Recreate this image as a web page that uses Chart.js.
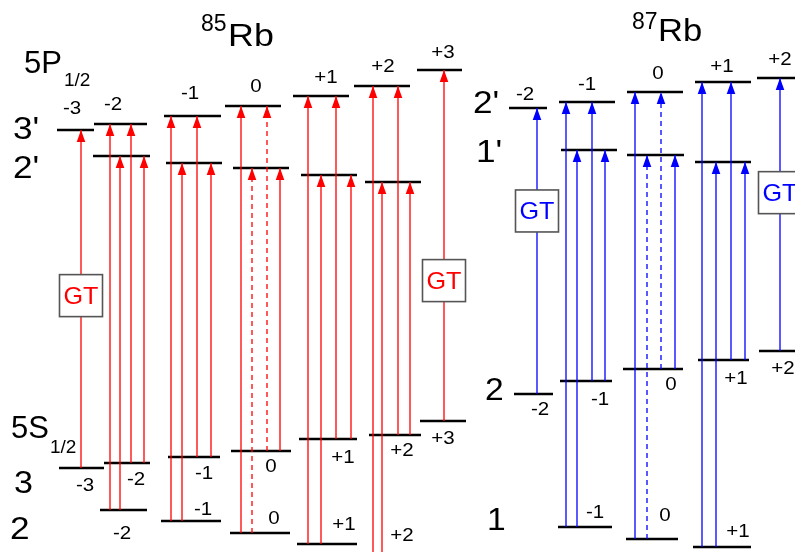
<!DOCTYPE html>
<html>
<head>
<meta charset="utf-8">
<script src="https://cdn.jsdelivr.net/npm/chart.js@4.4.0/dist/chart.umd.min.js"></script>
<style>
  html, body { margin: 0; padding: 0; background: #fff; }
</style>
</head>
<body>
<canvas id="diagram" width="795" height="552"></canvas>
<script>
// Level energies (height above the bottom edge, diagram units)
const rb85Mf = ['-3', '-2', '-1', '0', '+1', '+2', '+3'];
const rb85Up3 = [422, 428, 436, 446, 456, 466, 482];   // 5P1/2 F'=3
const rb85Up2 = [null, 396, 389, 384, 377, 370, null]; // 5P1/2 F'=2
const rb85Lo3 = [84, 89, 95, 101, 113, 117, 131];      // 5S1/2 F=3
const rb85Lo2 = [null, 42, 31, 19, 8, -4, null];       // 5S1/2 F=2

const rb87Mf = ['-2', '-1', '0', '+1', '+2'];
const rb87Up2 = [444, 450, 460, 470, 474];             // 5P1/2 F'=2
const rb87Up1 = [null, 402, 397, 390, null];           // 5P1/2 F'=1
const rb87Lo2 = [158, 171, 183, 192, 201];             // 5S1/2 F=2
const rb87Lo1 = [null, 25, 13, 5, null];               // 5S1/2 F=1

// transitions per mF column: [lower F, upper F', kind]  s = solid, d = dashed, g = with GT box
const rb85Trans = [
    [[3, 3, 'g']],
    [[2, 3, 's'], [2, 2, 's'], [3, 3, 's'], [3, 2, 's']],
    [[2, 3, 's'], [2, 2, 's'], [3, 3, 's'], [3, 2, 's']],
    [[2, 3, 's'], [2, 2, 'd'], [3, 3, 'd'], [3, 2, 's']],
    [[2, 3, 's'], [2, 2, 's'], [3, 3, 's'], [3, 2, 's']],
    [[2, 3, 's'], [2, 2, 's'], [3, 3, 's'], [3, 2, 's']],
    [[3, 3, 'g']]
];
const rb87Trans = [
    [[2, 2, 'g']],
    [[1, 2, 's'], [1, 1, 's'], [2, 2, 's'], [2, 1, 's']],
    [[1, 2, 's'], [1, 1, 'd'], [2, 2, 'd'], [2, 1, 's']],
    [[1, 2, 's'], [1, 1, 's'], [2, 2, 's'], [2, 1, 's']],
    [[2, 2, 'g']]
];

// ---- layout (where things sit horizontally, label offsets) ----
const span85 = {
    up3: [[57, 94], [94, 147], [164, 221], [225, 281], [293, 349], [354, 410], [417, 462]],
    up2: [null, [93, 150], [166, 222], [233, 289], [301, 357], [365, 421], null],
    lo3: [[59, 104], [104, 150], [168, 220], [231, 291], [299, 357], [369, 421], [420, 466]],
    lo2: [null, [100, 147], [161, 221], [230, 290], [297, 357], [369, 421], null]
};
const span87 = {
    up2: [[509, 547], [559, 615], [627, 683], [695, 751], [757, 810]],
    up1: [null, [561, 617], [627, 684], [695, 751], null],
    lo2: [[514, 553], [560, 612], [623, 683], [698, 749], [759, 810]],
    lo1: [null, [558, 612], [626, 678], [693, 751], null]
};
const arrowX85 = [[81], [110, 120, 131, 144], [171, 182, 197, 211], [241, 252, 267, 280],
                  [308, 321, 336, 351], [373, 382, 398, 410], [444]];
const arrowX87 = [[537], [566, 577, 592, 605], [635, 647, 661, 675], [702, 716, 731, 745], [780]];
const gtAt85 = { 0: 0.51, 6: 0.40 };
const gtAt87 = { 0: 0.64, 4: 0.58 };

// mF labels: [x, pixel offset from the level]
const lbl85Top = [[72, -23], [113, -21], [190, -24], [256, -21], [326, -20], [383, -21], [443, -19]];
const lbl85Lo3 = [[85, 16], [136, 15], [204, 15], [271, 14], [343, 17], [402, 14], [443, 16]];
const lbl85Lo2 = [null, [122, 22], [203, -13], [274, -16], [344, -21], [402, -22], null];
const lbl87Top = [[525, -15], [587, -19], [658, -20], [722, -17], [780, -20]];
const lbl87Lo2 = [[540, 14], [600, 17], [671, 14], [736, 17], [783, 16]];
const lbl87Lo1 = [null, [595, -16], [665, -25], [738, -17], null];

const FONT = "'Liberation Sans', Arial, sans-serif";
const RED = '#ff0000';
const BLUE = '#0000ff';

const datasets = [];

function addLevels(energies, spans) {
    energies.forEach((e, i) => {
        if (e === null || !spans[i]) return;
        datasets.push({
            data: [{ x: spans[i][0], y: e }, { x: spans[i][1], y: e }],
            showLine: true,
            borderColor: '#000',
            borderWidth: 2.7,
            borderCapStyle: 'butt',
            pointRadius: 0
        });
    });
}

function addArrows(trans, xs, lower, upper, gtAt, color) {
    trans.forEach((col, i) => {
        col.forEach((t, k) => {
            const yLo = lower[t[0]][i];
            const yUp = upper[t[1]][i];
            datasets.push({
                data: [{ x: xs[i][k], y: yLo }, { x: xs[i][k], y: yUp }],
                showLine: true,
                borderColor: color,
                borderWidth: 1.3,
                borderDash: t[2] === 'd' ? [5, 4] : [],
                pointRadius: 0,
                arrow: true,
                gt: t[2] === 'g' ? gtAt[i] : null
            });
        });
    });
}

addArrows(rb85Trans, arrowX85, { 3: rb85Lo3, 2: rb85Lo2 }, { 3: rb85Up3, 2: rb85Up2 }, gtAt85, RED);
addArrows(rb87Trans, arrowX87, { 2: rb87Lo2, 1: rb87Lo1 }, { 2: rb87Up2, 1: rb87Up1 }, gtAt87, BLUE);
addLevels(rb85Up3, span85.up3);
addLevels(rb85Up2, span85.up2);
addLevels(rb85Lo3, span85.lo3);
addLevels(rb85Lo2, span85.lo2);
addLevels(rb87Up2, span87.up2);
addLevels(rb87Up1, span87.up1);
addLevels(rb87Lo2, span87.lo2);
addLevels(rb87Lo1, span87.lo1);

function text(ctx, str, x, y, size, opts) {
    opts = opts || {};
    ctx.save();
    ctx.font = size + 'px ' + FONT;
    ctx.fillStyle = opts.color || '#000';
    ctx.textAlign = opts.align || 'left';
    ctx.textBaseline = 'alphabetic';
    ctx.translate(x, y);
    ctx.scale(opts.sx || 1, 1);
    ctx.fillText(str, 0, 0);
    ctx.restore();
}

const diagramPlugin = {
    id: 'diagram',
    afterDatasetsDraw(chart) {
        const ctx = chart.ctx;
        chart.data.datasets.forEach((ds, i) => {
            if (!ds.arrow) return;
            const pts = chart.getDatasetMeta(i).data;
            const base = pts[0], tip = pts[1];
            ctx.save();
            ctx.fillStyle = ds.borderColor;
            ctx.beginPath();
            ctx.moveTo(tip.x, tip.y);
            ctx.lineTo(tip.x - 4.3, tip.y + 12);
            ctx.lineTo(tip.x + 4.3, tip.y + 12);
            ctx.closePath();
            ctx.fill();
            if (ds.gt !== null) {
                const cy = base.y + (tip.y - base.y) * ds.gt;
                const w = 43, h = 42;
                ctx.fillStyle = '#fff';
                ctx.fillRect(tip.x - w / 2, cy - h / 2, w, h);
                ctx.strokeStyle = '#555';
                ctx.lineWidth = 1.6;
                ctx.strokeRect(tip.x - w / 2, cy - h / 2, w, h);
                text(ctx, 'GT', tip.x, cy + 8.5, 24, { color: ds.borderColor, align: 'center', sx: 1.05 });
            }
            ctx.restore();
        });
    },
    afterDraw(chart) {
        const ctx = chart.ctx;
        const xs = chart.scales.x, ys = chart.scales.y;
        const put = (lbls, energies, names) => {
            lbls.forEach((l, i) => {
                if (!l) return;
                const py = ys.getPixelForValue(energies[i]) + l[1];
                text(ctx, names[i], xs.getPixelForValue(l[0]), py + 7, 19, { align: 'center', sx: 1.08 });
            });
        };
        put(lbl85Top, rb85Up3, rb85Mf);
        put(lbl85Lo3, rb85Lo3, rb85Mf);
        put(lbl85Lo2, rb85Lo2, rb85Mf);
        put(lbl87Top, rb87Up2, rb87Mf);
        put(lbl87Lo2, rb87Lo2, rb87Mf);
        put(lbl87Lo1, rb87Lo1, rb87Mf);

        // titles and state names
        text(ctx, '85', 201, 31, 23);
        text(ctx, 'Rb', 228, 46, 32, { sx: 1.12 });
        text(ctx, '87', 632, 29, 23);
        text(ctx, 'Rb', 658, 41, 32, { sx: 1.08 });

        text(ctx, '5P', 24, 73, 31);
        text(ctx, '1/2', 64, 86, 19);
        text(ctx, "3'", 13, 139, 32, { sx: 1.1 });
        text(ctx, "2'", 13, 178, 32, { sx: 1.1 });
        text(ctx, '5S', 11, 438, 31);
        text(ctx, '1/2', 50, 453, 19);
        text(ctx, '3', 14, 493, 31, { sx: 1.1 });
        text(ctx, '2', 10, 539, 32, { sx: 1.1 });

        text(ctx, "2'", 473, 113, 32, { sx: 1.1 });
        text(ctx, "1'", 476, 162, 32, { sx: 1.1 });
        text(ctx, '2', 485, 400, 32, { sx: 1.05 });
        text(ctx, '1', 487, 530, 32, { sx: 1.05 });
    }
};

new Chart(document.getElementById('diagram'), {
    type: 'scatter',
    data: { datasets: datasets },
    options: {
        responsive: false,
        animation: false,
        devicePixelRatio: 1,
        layout: { padding: 0 },
        plugins: {
            legend: { display: false },
            tooltip: { enabled: false }
        },
        scales: {
            x: { type: 'linear', min: 0, max: 795, display: false },
            y: { type: 'linear', min: 0, max: 552, display: false }
        }
    },
    plugins: [diagramPlugin]
});
</script>
</body>
</html>
